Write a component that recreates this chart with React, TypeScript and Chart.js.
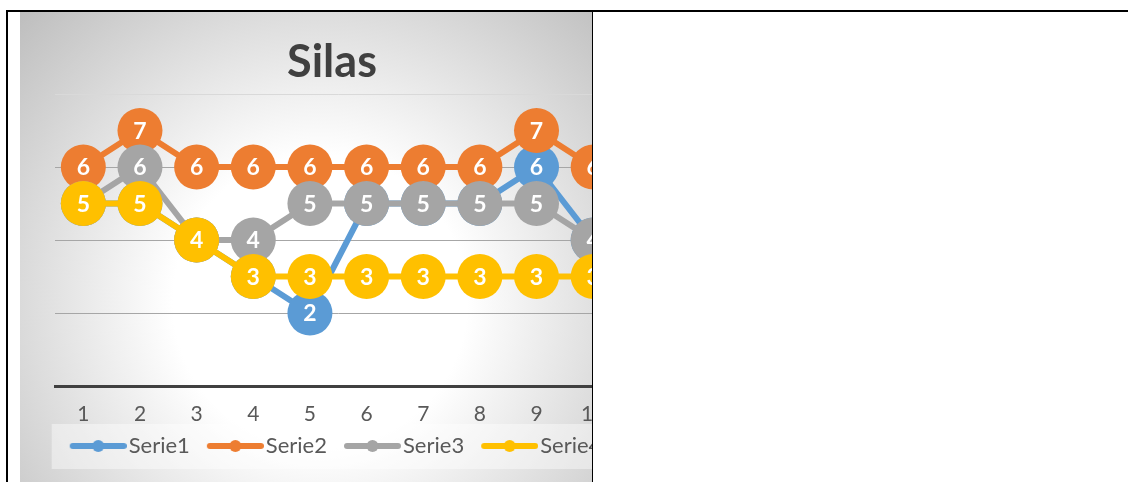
import React, { useEffect, useRef } from "react";
import { Chart, registerables } from "chart.js";

Chart.register(...registerables);

const categories = ["1", "2", "3", "4", "5", "6", "7", "8", "9", "10"];
const serie1 = [5, 5, 4, 3, 2, 5, 5, 5, 6, 4];
const serie2 = [6, 7, 6, 6, 6, 6, 6, 6, 7, 6];
const serie3 = [5, 6, 4, 4, 5, 5, 5, 5, 5, 4];
const serie4 = [5, 5, 4, 3, 3, 3, 3, 3, 3, 3];
const seriesNames = ["Serie1", "Serie2", "Serie3", "Serie4"];
const seriesColors = ["#5B9BD5", "#ED7D31", "#A5A5A5", "#FFC000"];
const chartTitle = "Silas";

const FONT = "Lato, 'Open Sans', sans-serif";

function makeLegendIcon(color: string): HTMLCanvasElement {
  const c = document.createElement("canvas");
  c.width = 73;
  c.height = 14;
  const g = c.getContext("2d")!;
  g.strokeStyle = color;
  g.lineWidth = 6;
  g.lineCap = "round";
  g.beginPath();
  g.moveTo(19, 7);
  g.lineTo(70, 7);
  g.stroke();
  g.fillStyle = color;
  g.beginPath();
  g.arc(44.5, 7, 6, 0, Math.PI * 2);
  g.fill();
  return c;
}

export default function App() {
  const ref = useRef<HTMLCanvasElement | null>(null);

  useEffect(() => {
    let chart: Chart | null = null;
    let cancelled = false;
    const build = () => {
      if (cancelled || !ref.current) return;
      const icons = seriesColors.map(makeLegendIcon);
      const values = [serie1, serie2, serie3, serie4];

      const bgPlugin = {
        id: "bgPlugin",
        beforeDraw(c: any) {
          const ctx = c.ctx;
          const w = c.width;
          const h = c.height;
          ctx.save();
          const grad = ctx.createRadialGradient(300, 290, 0, 300, 290, 420);
          grad.addColorStop(0, "#ffffff");
          grad.addColorStop(0.35, "#ffffff");
          grad.addColorStop(1, "#bdbdbd");
          ctx.fillStyle = grad;
          ctx.fillRect(0, 0, w, h);
          const lg = c.legend;
          if (lg && lg.legendHitBoxes && lg.legendHitBoxes.length) {
            let l = Infinity;
            let r = -Infinity;
            lg.legendHitBoxes.forEach((hb: any) => {
              l = Math.min(l, hb.left);
              r = Math.max(r, hb.left + hb.width);
            });
            ctx.fillStyle = "rgba(255,255,255,0.42)";
            ctx.fillRect(l - 11, lg.top - 1, r - l + 22, 45);
          }
          ctx.restore();
        },
      };

      const labelPlugin = {
        id: "labelPlugin",
        afterDatasetDraw(c: any, args: any) {
          const meta = args.meta;
          const ds = c.data.datasets[meta.index];
          const ctx = c.ctx;
          ctx.save();
          ctx.fillStyle = "#ffffff";
          ctx.font = `bold 23px ${FONT}`;
          ctx.textAlign = "center";
          ctx.textBaseline = "middle";
          meta.data.forEach((el: any, i: number) => {
            ctx.fillText(String(ds.data[i]), el.x, el.y + 1);
          });
          ctx.restore();
        },
      };

      chart = new Chart(ref.current, {
        type: "line",
        data: {
          labels: categories,
          datasets: values.map((v, i) => ({
            label: seriesNames[i],
            data: v,
            borderColor: seriesColors[i],
            backgroundColor: seriesColors[i],
            pointBackgroundColor: seriesColors[i],
            pointBorderColor: seriesColors[i],
            pointBorderWidth: 0,
            pointRadius: 22.5,
            pointHoverRadius: 22.5,
            borderWidth: 6,
            borderCapStyle: "round",
            borderJoinStyle: "round",
            tension: 0,
            fill: false,
            order: 3 - i,
            clip: false as any,
          })),
        },
        options: {
          responsive: false,
          animation: false,
          devicePixelRatio: 1,
          layout: { padding: { left: 0, right: 0, top: 0, bottom: 15 } },
          scales: {
            x: {
              type: "category",
              offset: true,
              grid: { display: false, drawTicks: false },
              border: { display: true, color: "#404040", width: 3 },
              ticks: {
                color: "#595959",
                font: { family: FONT, size: 21 },
                padding: 16,
                maxRotation: 0,
                autoSkip: false,
              },
              afterFit: (s: any) => {
                s.height = 39;
              },
            },
            y: {
              min: 0,
              max: 8,
              ticks: { display: false, stepSize: 2 },
              border: { display: false },
              grid: {
                drawTicks: false,
                lineWidth: 1,
                color: (ctx: any) =>
                  ctx.tick && ctx.tick.value === 8 ? "#d9d9d9" : ctx.tick && ctx.tick.value === 0 ? "rgba(0,0,0,0)" : "#a6a6a6",
              },
              afterFit: (s: any) => {
                s.width = 35;
              },
            },
            y2: {
              position: "right",
              min: 0,
              max: 8,
              ticks: { display: false },
              border: { display: false },
              grid: { display: false, drawTicks: false },
              afterFit: (s: any) => {
                s.width = 19;
              },
            },
          },
          plugins: {
            title: {
              display: true,
              text: chartTitle,
              color: "#404040",
              font: { family: FONT, size: 45, weight: "bold" },
              padding: { top: 23, bottom: 5 },
            },
            legend: {
              display: true,
              position: "bottom",
              labels: {
                usePointStyle: true,
                pointStyleWidth: 55,
                padding: 10,
                color: "#595959",
                font: { family: FONT, size: 22 },
                sort: (a: any, b: any) => a.datasetIndex - b.datasetIndex,
                generateLabels: (c: any) => {
                  const items = (Chart.defaults.plugins.legend.labels as any).generateLabels(c);
                  return items.map((it: any) => ({ ...it, pointStyle: icons[it.datasetIndex] }));
                },
              },
            },
            tooltip: { enabled: false },
          },
        } as any,
        plugins: [bgPlugin, labelPlugin],
      });
    };

    const fontsApi = (document as any).fonts;
    if (fontsApi && fontsApi.load) {
      Promise.all([
        fontsApi.load(`bold 45px Lato`),
        fontsApi.load(`22px Lato`),
      ])
        .catch(() => null)
        .then(build);
    } else {
      build();
    }
    return () => {
      cancelled = true;
      if (chart) chart.destroy();
    };
  }, []);

  return (
    <div style={{ position: "fixed", left: 0, top: 0, width: 1128, height: 482, background: "#fff", overflow: "hidden" }}>
      <div style={{ position: "absolute", left: 20, top: 12, width: 572, height: 470, overflow: "hidden" }}>
        <canvas ref={ref} width={624} height={470} style={{ display: "block", width: 624, height: 470 }} />
      </div>
      <div style={{ position: "absolute", left: 6, top: 10, width: 1122, height: 2, background: "#000" }} />
      <div style={{ position: "absolute", left: 6, top: 10, width: 2, height: 472, background: "#000" }} />
      <div style={{ position: "absolute", left: 592, top: 10, width: 1, height: 472, background: "#000" }} />
    </div>
  );
}
